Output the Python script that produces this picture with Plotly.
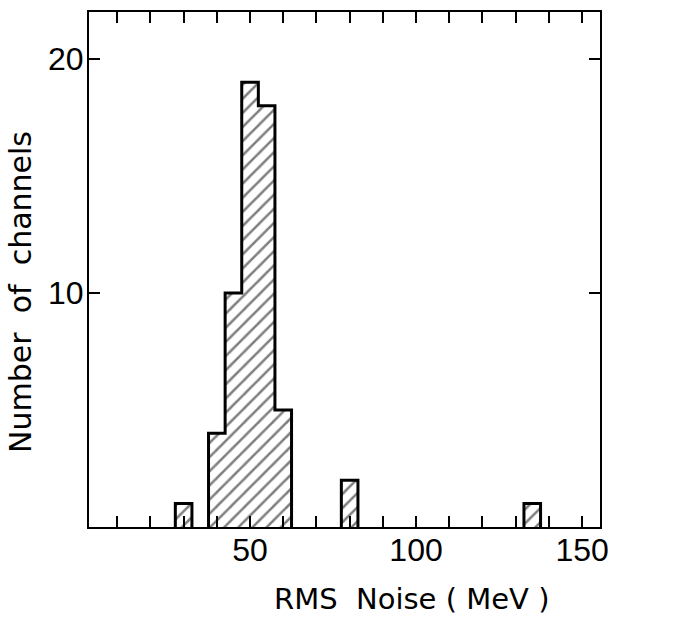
import plotly.graph_objects as go

# Data
bin_centers = [30, 40, 45, 50, 55, 60, 80, 135]
counts = [1, 4, 10, 19, 18, 5, 2, 1]
bin_width = 5

x_tick_vals = list(range(10, 160, 10))
x_tick_labels = ["50" if v == 50 else "100" if v == 100 else "150" if v == 150 else "" for v in x_tick_vals]
y_tick_vals = [10, 20]
y_tick_labels = ["10", "20"]

TICK_FONT = "Liberation Sans, Arial, sans-serif"
TITLE_FONT = "DejaVu Sans, sans-serif"

# Build step outline from the histogram data (contiguous bins joined)
ox, oy = [], []
prev_right = None
prev_c = 0
for c, n in zip(bin_centers, counts):
    left = c - bin_width / 2
    right = c + bin_width / 2
    if prev_right is not None and abs(prev_right - left) < 1e-9:
        ox += [left, left]
        oy += [prev_c, n]
    else:
        if prev_right is not None:
            ox += [prev_right, None]
            oy += [0, None]
        ox += [left, left]
        oy += [0, n]
    ox.append(right)
    oy.append(n)
    prev_right, prev_c = right, n
ox.append(prev_right)
oy.append(0)

fig = go.Figure()
fig.add_trace(go.Bar(
    x=bin_centers, y=counts, width=bin_width,
    marker=dict(color="white", line=dict(width=0),
                pattern=dict(shape="/", fgcolor="black", bgcolor="white", size=10, solidity=0.25)),
    showlegend=False,
))
fig.add_trace(go.Scatter(
    x=ox, y=oy, mode="lines", line=dict(color="black", width=3),
    showlegend=False, connectgaps=False,
))

fig.update_layout(
    width=679, height=617,
    margin=dict(l=89, r=79, t=10, b=90),
    plot_bgcolor="white", paper_bgcolor="white",
    font=dict(family=TICK_FONT, color="black", size=32),
    bargap=0,
    annotations=[
        dict(text="RMS  Noise ( MeV )", xref="paper", yref="paper", x=0.632, y=-0.139,
             xanchor="center", yanchor="middle", showarrow=False,
             font=dict(family=TITLE_FONT, size=29, color="black")),
        dict(text="Number  of  channels", xref="paper", yref="paper", x=-0.133, y=0.4565,
             xanchor="center", yanchor="middle", showarrow=False, textangle=-90,
             font=dict(family=TITLE_FONT, size=30, color="black")),
    ],
)
fig.update_xaxes(
    range=[1.5, 155.4], tickmode="array", tickvals=x_tick_vals, ticktext=x_tick_labels,
    ticks="inside", ticklen=11, tickwidth=2, tickcolor="black",
    showline=True, linecolor="black", linewidth=2, mirror="ticks",
    showgrid=False, zeroline=False, ticklabelstandoff=-6,
    tickfont=dict(size=32, family=TICK_FONT),
)
fig.update_yaxes(
    range=[0, 22], tickmode="array", tickvals=y_tick_vals, ticktext=y_tick_labels,
    ticks="inside", ticklen=11, tickwidth=2, tickcolor="black",
    showline=True, linecolor="black", linewidth=2, mirror="ticks",
    showgrid=False, zeroline=False, ticklabelstandoff=-3,
    tickfont=dict(size=32, family=TICK_FONT),
)

fig.write_html("out.html")
